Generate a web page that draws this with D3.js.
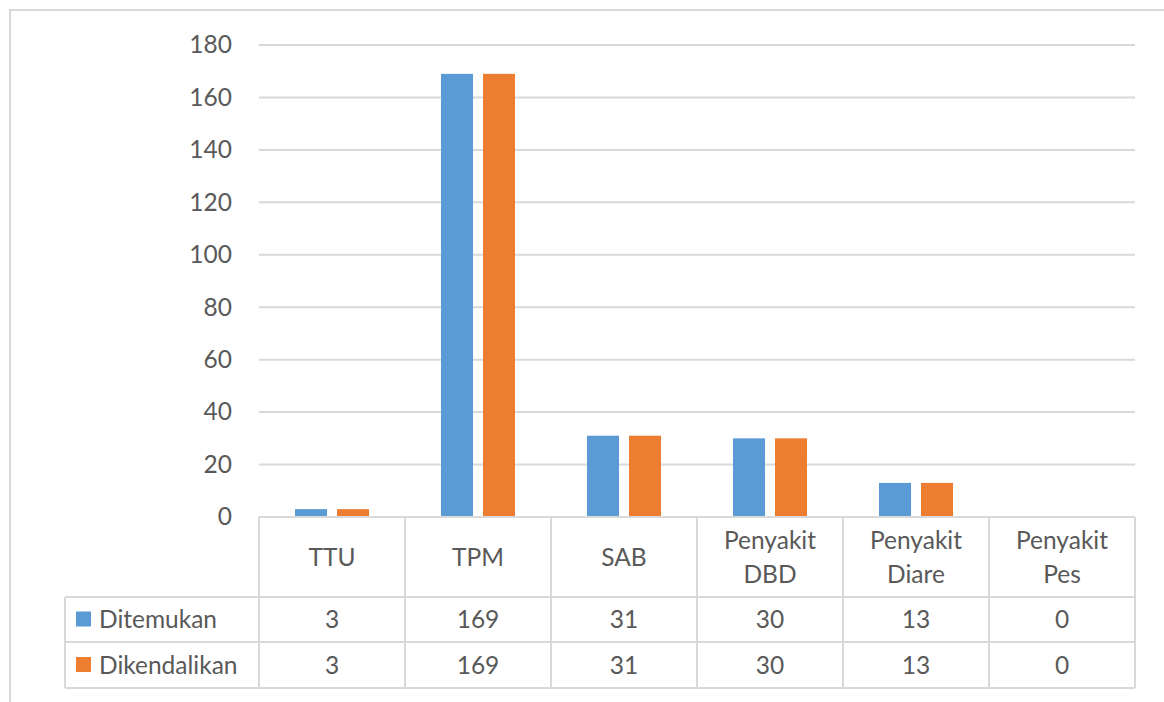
<!DOCTYPE html>
<html>
<head>
<meta charset="utf-8">
<script src="https://cdn.jsdelivr.net/npm/d3@7"></script>
<style>
  body { margin: 0; background: #fff; }
  svg text { font-family: Lato, "Open Sans", sans-serif; fill: #595959; }
</style>
</head>
<body>
<svg id="chart"></svg>
<script>
const width = 1164;
const height = 702;

// data
const categories = [["TTU"], ["TPM"], ["SAB"], ["Penyakit", "DBD"], ["Penyakit", "Diare"], ["Penyakit", "Pes"]];
const ditemukan = [3, 169, 31, 30, 13, 0];
const dikendalikan = [3, 169, 31, 30, 13, 0];
const seriesNames = ["Ditemukan", "Dikendalikan"];
const seriesColors = ["#5B9BD5", "#ED7D31"];
const yTicks = [0, 20, 40, 60, 80, 100, 120, 140, 160, 180];

const series = [ditemukan, dikendalikan];
const fontSize = "24.5px";

const svg = d3.select("#chart").attr("width", width).attr("height", height);

// outer chart border
svg.append("rect")
    .attr("x", 10).attr("y", 10)
    .attr("width", width + 20).attr("height", height + 20)
    .attr("fill", "none")
    .attr("stroke", "#d9d9d9")
    .attr("stroke-width", 2);

const plotLeft = 259, plotRight = 1135;
const plotTop = 45, plotBottom = 517;

const x = d3.scaleBand()
    .domain(d3.range(categories.length))
    .range([plotLeft, plotRight]);

const y = d3.scaleLinear()
    .domain([0, 180])
    .range([plotBottom, plotTop]);

// gridlines
svg.append("g")
    .selectAll("line")
    .data(yTicks.filter(d => d > 0))
    .enter()
    .append("line")
    .attr("x1", plotLeft).attr("x2", plotRight)
    .attr("y1", d => y(d)).attr("y2", d => y(d))
    .attr("stroke", "#d9d9d9")
    .attr("stroke-width", 2);

// y axis labels
const yAxis = d3.axisLeft(y).tickValues(yTicks).tickSize(0).tickPadding(0);
const yG = svg.append("g")
    .attr("transform", `translate(${plotLeft - 27},0)`)
    .call(yAxis);
yG.select(".domain").remove();
yG.selectAll("text")
    .style("font-size", fontSize)
    .style("fill", "#595959")
    .style("font-family", "Lato, 'Open Sans', sans-serif");

// bars
const barW = 32, gap = 10;
series.forEach((vals, si) => {
    svg.append("g")
        .selectAll("rect")
        .data(vals)
        .enter()
        .append("rect")
        .attr("x", (d, i) => x(i) + x.bandwidth() / 2 + (si === 0 ? -(barW + gap / 2) : gap / 2))
        .attr("y", d => y(d))
        .attr("width", barW)
        .attr("height", d => plotBottom - y(d))
        .attr("fill", seriesColors[si]);
});

// data table
const rowTops = [plotBottom, 597, 642, 688];
const legendLeft = 65;
const grid = svg.append("g")
    .attr("stroke", "#d9d9d9")
    .attr("stroke-width", 2)
    .attr("fill", "none");

// horizontal lines
grid.append("line").attr("x1", plotLeft).attr("x2", plotRight).attr("y1", rowTops[0]).attr("y2", rowTops[0]);
rowTops.slice(1).forEach(ry => {
    grid.append("line").attr("x1", legendLeft).attr("x2", plotRight).attr("y1", ry).attr("y2", ry);
});
// vertical lines
d3.range(categories.length + 1).forEach(i => {
    const lx = i < categories.length ? x(i) : plotRight;
    grid.append("line").attr("x1", lx).attr("x2", lx).attr("y1", rowTops[0]).attr("y2", rowTops[3]);
});
grid.append("line").attr("x1", legendLeft).attr("x2", legendLeft).attr("y1", rowTops[1]).attr("y2", rowTops[3]);

// category labels
categories.forEach((lines, i) => {
    const cx = x(i) + x.bandwidth() / 2;
    const cy = (rowTops[0] + rowTops[1]) / 2;
    const t = svg.append("text")
        .attr("x", cx)
        .attr("text-anchor", "middle")
        .style("font-size", fontSize);
    lines.forEach((ln, li) => {
        t.append("tspan")
            .attr("x", cx)
            .attr("y", cy + (li - (lines.length - 1) / 2) * 34)
            .attr("dy", "0.35em")
            .text(ln);
    });
});

// value rows + legend keys
series.forEach((vals, si) => {
    const cy = (rowTops[si + 1] + rowTops[si + 2]) / 2;
    svg.append("rect")
        .attr("x", 76).attr("y", cy - 8)
        .attr("width", 15).attr("height", 15)
        .attr("fill", seriesColors[si]);
    svg.append("text")
        .attr("x", 99).attr("y", cy).attr("dy", "0.35em")
        .style("font-size", fontSize)
        .text(seriesNames[si]);
    svg.append("g")
        .selectAll("text")
        .data(vals)
        .enter()
        .append("text")
        .attr("x", (d, i) => x(i) + x.bandwidth() / 2)
        .attr("y", cy)
        .attr("dy", "0.35em")
        .attr("text-anchor", "middle")
        .style("font-size", fontSize)
        .text(d => d);
});
</script>
</body>
</html>
